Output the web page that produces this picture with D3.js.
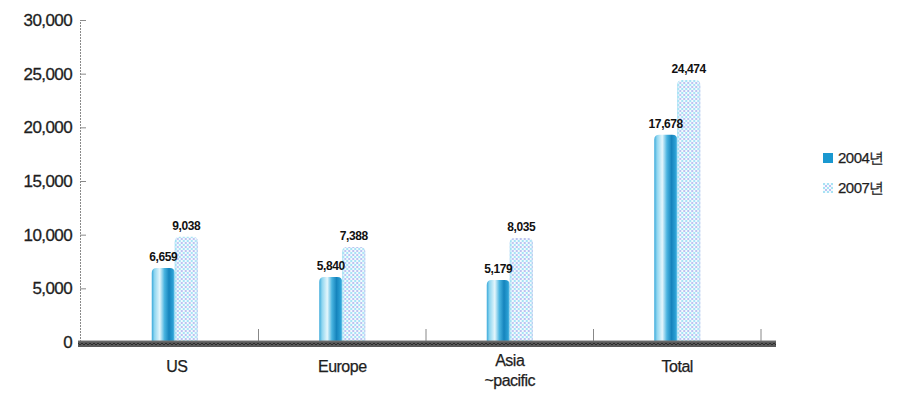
<!DOCTYPE html>
<html><head><meta charset="utf-8">
<script src="https://cdn.jsdelivr.net/npm/d3@7"></script>
<style>
html,body{margin:0;padding:0;background:#fff;}
svg{display:block;font-family:"Liberation Sans",Arial,sans-serif;}
</style></head>
<body>
<svg id="c" width="900" height="396"></svg>
<script>
// ---- data ----
const categories = ["US", "Europe", "Asia\n~pacific", "Total"];
const seriesNames = ["2004년", "2007년"];
const values2004 = [6900, 6050, 5780, 19300];
const values2007 = [9800, 8850, 9700, 24400];
const labels2004 = ["6,659", "5,840", "5,179", "17,678"];
const labels2007 = ["9,038", "7,388", "8,035", "24,474"];
const yTicks = [0, 5000, 10000, 15000, 20000, 25000, 30000];

const svg = d3.select("#c");
const defs = svg.append("defs");

// gradient for 2004 bars (cylinder look)
const g1 = defs.append("linearGradient").attr("id","g2004").attr("x1","0").attr("x2","1").attr("y1","0").attr("y2","0");
[[0,"#3aa9da"],[0.12,"#8fd6f0"],[0.35,"#e4f6fc"],[0.55,"#49b4e0"],[0.75,"#1584bd"],[0.92,"#2a9fd4"],[1,"#6cc6ea"]]
  .forEach(([o,c])=>g1.append("stop").attr("offset",o).attr("stop-color",c));

// dotted pattern for 2007 bars
const p = defs.append("pattern").attr("id","p2007").attr("width",4).attr("height",4).attr("patternUnits","userSpaceOnUse");
p.append("rect").attr("width",4).attr("height",4).attr("fill","#f3fbfe");
p.append("rect").attr("x",0).attr("y",0).attr("width",2).attr("height",2).attr("fill","#a8e2f5");
p.append("rect").attr("x",2).attr("y",2).attr("width",2).attr("height",2).attr("fill","#bcc2f0");
const g2 = defs.append("linearGradient").attr("id","g2007e").attr("x1","0").attr("x2","1");
[[0,"#7fd3f0",0.6],[0.15,"#ffffff",0],[0.85,"#ffffff",0],[1,"#9fc8ee",0.5]]
  .forEach(([o,c,a])=>g2.append("stop").attr("offset",o).attr("stop-color",c).attr("stop-opacity",a));

// floor hatch
const ph = defs.append("pattern").attr("id","floor").attr("width",4).attr("height",6).attr("patternUnits","userSpaceOnUse");
ph.append("rect").attr("width",4).attr("height",6).attr("fill","#5a5a5a");
ph.append("path").attr("d","M0,3 L2,1 L4,3").attr("stroke","#2e2e2e").attr("stroke-width",1).attr("fill","none");

// ---- scales ----
const y = d3.scaleLinear().domain([0,30000]).range([342,20]);
const x = d3.scaleBand().domain(categories).range([91,761]).padding(0);
const xs = d3.scaleBand().domain(seriesNames).range([-23,23]).padding(0);

// y axis
const yAxis = svg.append("g").attr("transform","translate(80,0)")
  .call(d3.axisRight(y).tickValues(yTicks).tickSize(6).tickFormat(""));
yAxis.select(".domain").attr("stroke","#8a8a8a").attr("stroke-dasharray","2,1");
yAxis.selectAll(".tick line").attr("stroke","#8a8a8a");

svg.append("g").selectAll("text").data(yTicks).join("text")
  .attr("x",72).attr("y",d=>y(d)+6).attr("text-anchor","end")
  .attr("font-size",17).attr("fill","#1e1e1e").attr("letter-spacing","-0.6")
  .attr("stroke","#1e1e1e").attr("stroke-width",0.3)
  .text(d=>d3.format(",")(d));

// category tick marks
svg.append("g").selectAll("line").data(categories).join("line")
  .attr("x1",d=>x(d)+x.bandwidth()).attr("x2",d=>x(d)+x.bandwidth())
  .attr("y1",329).attr("y2",342).attr("stroke","#888").attr("stroke-width",1);

// bars
const barPath = (x0,w,top,bot)=>{
  const r = Math.min(w/2, 5);
  return `M${x0},${bot} L${x0},${top+r} Q${x0},${top} ${x0+r},${top} L${x0+w-r},${top} Q${x0+w},${top} ${x0+w},${top+r} L${x0+w},${bot} Z`;
};
const rows = categories.map((c,i)=>({c, v:[values2004[i],values2007[i]], l:[labels2004[i],labels2007[i]]}));
const grp = svg.append("g").selectAll("g").data(rows).join("g")
  .attr("transform",d=>`translate(${x(d.c)+x.bandwidth()/2},0)`);

grp.append("path").attr("d",d=>barPath(xs(seriesNames[0]),xs.bandwidth(),y(d.v[0]),y(0)))
  .attr("fill","url(#g2004)");
grp.append("path").attr("d",d=>barPath(xs(seriesNames[1]),xs.bandwidth(),y(d.v[1]),y(0)))
  .attr("fill","url(#p2007)");
grp.append("path").attr("d",d=>barPath(xs(seriesNames[1]),xs.bandwidth(),y(d.v[1]),y(0)))
  .attr("fill","url(#g2007e)");

[0,1].forEach(k=>{
  grp.append("text")
    .attr("x",xs(seriesNames[k])+xs.bandwidth()/2)
    .attr("y",d=>y(d.v[k])-7)
    .attr("text-anchor","middle").attr("font-size",12).attr("font-weight","bold")
    .attr("letter-spacing","-0.4").attr("fill","#111")
    .text(d=>d.l[k]);
});

// floor
svg.append("rect").attr("x",78).attr("y",341).attr("width",698).attr("height",6).attr("fill","url(#floor)");
svg.append("line").attr("x1",78).attr("x2",776).attr("y1",341).attr("y2",341).attr("stroke","#777");

// category labels
svg.append("g").selectAll("text").data(categories).join("text")
  .attr("x",d=>x(d)+x.bandwidth()/2+ (d==="US"?2:0))
  .attr("y",d=>d.includes("\n")?366:372).attr("text-anchor","middle")
  .attr("font-size",16).attr("fill","#1e1e1e").attr("letter-spacing","-0.5")
  .attr("stroke","#1e1e1e").attr("stroke-width",0.25)
  .each(function(d){
    const t = d3.select(this);
    d.split("\n").forEach((s,i)=>t.append("tspan").attr("x",t.attr("x")).attr("dy",i?20:0).text(s));
  });

// legend
const leg = svg.append("g").selectAll("g").data(seriesNames).join("g")
  .attr("transform",(d,i)=>`translate(823,${153+i*30})`);
leg.append("rect").attr("width",10).attr("height",10)
  .attr("fill",(d,i)=>i?"url(#p2007)":"#1a98d0");
leg.append("text").attr("x",15).attr("y",10).attr("font-size",15).attr("fill","#1e1e1e")
  .attr("letter-spacing","-0.5").attr("stroke","#1e1e1e").attr("stroke-width",0.25)
  .text(d=>d);
</script>
</body></html>
